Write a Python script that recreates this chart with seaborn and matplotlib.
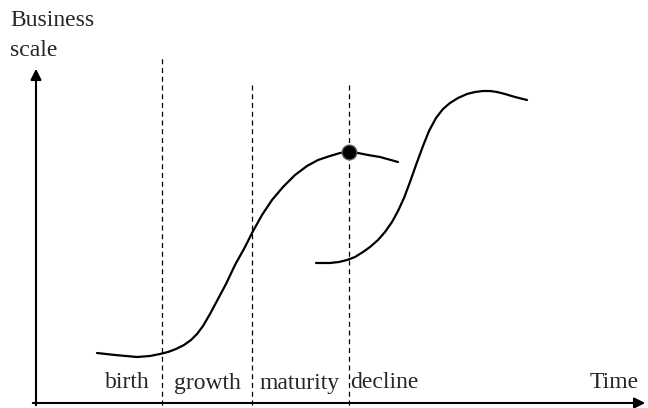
import numpy as np
import pandas as pd
import seaborn as sns
import matplotlib.pyplot as plt

# --- data (in pixel-like units) ---
curve1_x = [97, 106, 115, 126, 137, 150, 160, 168, 176, 184, 191, 197, 203, 210, 218,
            226, 235, 245, 252, 262, 272, 283, 295, 307, 318, 330, 340, 349, 358, 368,
            380, 398]
curve1_y = [55, 54, 53, 52, 51, 52, 54, 56, 59, 63, 68, 74, 82, 94, 109,
            124, 143, 161, 175, 193, 208, 221, 233, 242, 248, 252, 255, 256, 255, 253,
            251, 246]
curve2_x = [316, 323, 330, 339, 347, 355, 363, 370, 378, 385, 392, 398, 404, 410, 416,
            423, 429, 436, 443, 450, 458, 467, 475, 483, 490, 497, 505, 515, 527]
curve2_y = [145, 145, 145, 146, 148, 151, 156, 161, 168, 176, 186, 197, 210, 226, 243,
            262, 277, 290, 299, 305, 310, 314, 316, 317, 317, 316, 314, 311, 308]
point_x = [349]
point_y = [256]
stage_bounds = [162, 252, 349]
stage_tops = [353, 326, 326]
stage_labels = ['birth', 'growth', 'maturity', 'decline']
stage_label_x = [127, 207, 300, 384]

sns.set_style('white')
plt.rcParams['font.family'] = ['Liberation Serif', 'DejaVu Serif']

fig = plt.figure(figsize=(6.48, 4.08), dpi=100)
ax = fig.add_axes([0, 0, 1, 1])

df1 = pd.DataFrame({'x': curve1_x, 'y': curve1_y})
df2 = pd.DataFrame({'x': curve2_x, 'y': curve2_y})
sns.lineplot(data=df1, x='x', y='y', sort=False, estimator=None, color='black', lw=1.6,
             solid_joinstyle='round', ax=ax)
sns.lineplot(data=df2, x='x', y='y', sort=False, estimator=None, color='black', lw=1.6,
             solid_joinstyle='round', ax=ax)

# stage boundaries
for xb, top in zip(stage_bounds, stage_tops):
    ax.plot([xb, xb], [3, top], color='black', lw=0.9, ls=(0, (4, 3)))

sns.scatterplot(x=point_x, y=point_y, color='black', s=110, edgecolor='#555555',
                linewidth=1, zorder=5, ax=ax)

# axes with arrows
ax.annotate('', xy=(648, 5), xytext=(30, 5),
            arrowprops=dict(arrowstyle='-|>', color='black', lw=1.5, mutation_scale=16))
ax.annotate('', xy=(36, 342), xytext=(36, 0),
            arrowprops=dict(arrowstyle='-|>', color='black', lw=1.5, mutation_scale=16))

for lab, lx in zip(stage_labels, stage_label_x):
    ax.text(lx, 25, lab, ha='center', va='center', fontsize=17)
ax.text(614, 25, 'Time', ha='center', va='center', fontsize=17)
ax.text(10, 388, 'Business', ha='left', va='center', fontsize=17)
ax.text(10, 357, 'scale', ha='left', va='center', fontsize=17)

ax.set_xlim(0, 648)
ax.set_ylim(0, 408)
ax.axis('off')

fig.savefig('out.png', dpi=100)
